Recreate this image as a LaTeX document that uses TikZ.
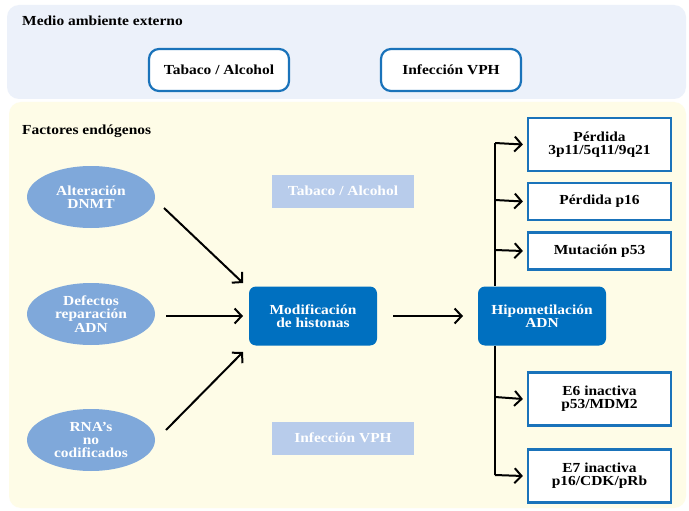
\documentclass[tikz,border=0pt]{standalone}
\usepackage{fontspec}
\setmainfont[FakeStretch=1.12]{Liberation Serif}
\usetikzlibrary{arrows.meta,shapes.geometric}
\definecolor{topbg}{HTML}{ECF1FA}
\definecolor{botbg}{HTML}{FEFCE7}
\definecolor{bord}{HTML}{1A73BA}
\definecolor{dark}{HTML}{0070C0}
\definecolor{ell}{HTML}{7FA8DA}
\definecolor{faded}{HTML}{B8CCEB}
\tikzset{
  lbl/.style={font=\bfseries\fontsize{13.8}{13.3}\selectfont, align=center, inner sep=0pt},
  envbox/.style={lbl, draw=bord, line width=2.2pt, fill=white, rounded corners=10pt, minimum width=140pt, minimum height=42pt},
  ellbox/.style={lbl, ellipse, fill=ell, text=white, minimum width=128pt, minimum height=62pt},
  fadebox/.style={lbl, fill=faded, text=white, minimum width=142pt, minimum height=33pt},
  darkbox/.style={lbl, fill=dark, text=white, rounded corners=7pt, minimum width=128pt, minimum height=59pt},
  outbox/.style={lbl, draw=bord, line width=2.2pt, fill=white, minimum width=143pt},
  arr/.style={line width=2pt, -{Straight Barb[length=7pt,width=15pt,line width=2pt]}},
  panel/.style={rounded corners=12pt},
}
\begin{document}
\begin{tikzpicture}[x=1pt,y=-1pt]
\useasboundingbox (0,0) rectangle (689,511);
\fill[white] (0,0) rectangle (689,511);
% panels
\fill[topbg, panel] (7,5) rectangle (686,99);
\fill[botbg, panel] (9,102) rectangle (686,508);
\node[lbl, anchor=west] (t1) at (22,21) {Medio ambiente externo};
\node[lbl, anchor=west] (t2) at (22,131) {Factores endógenos};
% environment boxes
\node[envbox] (tab) at (219,70) {Tabaco / Alcohol};
\node[envbox] (vph) at (451,70) {Infección VPH};
% ellipses
\node[ellbox] (e1) at (91,197) {Alteración\\DNMT};
\node[ellbox] (e2) at (91,314) {Defectos\\reparación\\ADN};
\node[ellbox] (e3) at (91,440) {RNA’s\\no\\codificados};
% faded
\node[fadebox] (f1) at (343,191) {Tabaco / Alcohol};
\node[fadebox] (f2) at (343,438) {Infección VPH};
% dark boxes
\node[darkbox] (mod) at (313,316) {Modificación\\de histonas};
\node[darkbox] (hip) at (542,316) {Hipometilación\\ADN};
% output boxes
\node[outbox, minimum height=53pt] (o1) at (599.5,144.5) {Pérdida\\3p11/5q11/9q21};
\node[outbox, minimum height=37pt] (o2) at (599.5,201.5) {Pérdida p16};
\node[outbox, minimum height=37pt] (o3) at (599.5,251) {Mutación p53};
\node[outbox, minimum height=53pt] (o4) at (599.5,399) {E6 inactiva\\p53/MDM2};
\node[outbox, minimum height=53pt] (o5) at (599.5,476) {E7 inactiva\\p16/CDK/pRb};
% coordinates
\coordinate (a1s) at (164,208);
\coordinate (a1e) at (243,283);
\coordinate (a2s) at (166,316);
\coordinate (a2e) at (243,316);
\coordinate (a3s) at (166,430);
\coordinate (a3e) at (243,352);
\coordinate (m1) at (393,316);
\coordinate (m2) at (463,316);
\coordinate (tt) at (495,143);
\coordinate (tb) at (495,475);
% arrows
\draw[arr] (a1s) -- (a1e);
\draw[arr] (a2s) -- (a2e);
\draw[arr] (a3s) -- (a3e);
\draw[arr] (m1) -- (m2);
\draw[line width=2pt] (tt) -- (hip.north -| tt);
\draw[line width=2pt] (hip.south -| tb) -- (tb);
\draw[arr] (tt) -- ([xshift=-4pt]o1.west);
\draw[arr] (495,200) -- ([xshift=-4pt]o2.west);
\draw[arr] (495,250) -- ([xshift=-4pt]o3.west);
\draw[arr] (495,397) -- ([xshift=-4pt]o4.west);
\draw[arr] (tb) -- ([xshift=-4pt]o5.west);
\end{tikzpicture}
\end{document}
